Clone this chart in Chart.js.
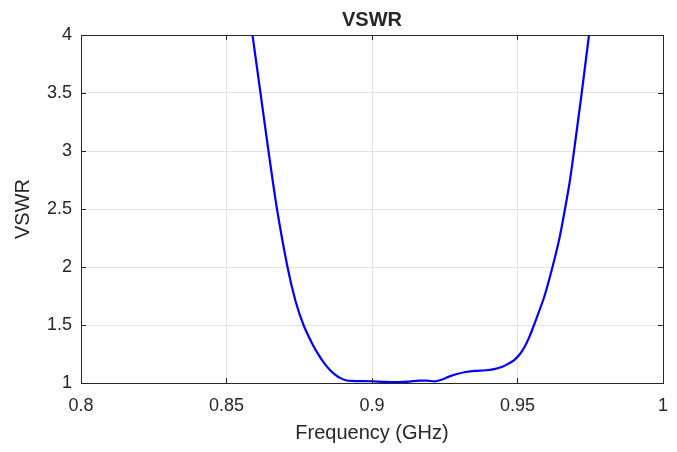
<!DOCTYPE html>
<html>
<head>
<meta charset="utf-8">
<script src="https://cdn.jsdelivr.net/npm/chart.js@4/dist/chart.umd.min.js"></script>
<style>
  html, body { margin: 0; padding: 0; background: #fff; }
  #wrap { width: 677px; height: 452px; }
</style>
</head>
<body>
<div id="wrap"><canvas id="myChart" width="677" height="452"></canvas></div>
<script>
// frequency (GHz) and VSWR
const freq = [0.85704, 0.85893, 0.86168, 0.86443, 0.86735, 0.87096, 0.87371, 0.87646, 0.87938, 0.88144,
    0.8835, 0.88557, 0.88753, 0.88918, 0.89096, 0.89278, 0.8996, 0.90447, 0.90928, 0.91271,
    0.91615, 0.9189, 0.92189, 0.92405, 0.92646, 0.9292, 0.9322, 0.9354, 0.93907, 0.9419,
    0.94478, 0.94708, 0.94897, 0.95086, 0.95241, 0.95412, 0.95567, 0.95928, 0.96203, 0.96443,
    0.96632, 0.96804, 0.96942, 0.97206, 0.97457, 0.97646]
const vswr = [4.34, 4.0, 3.5, 3.0, 2.5, 2.0, 1.707, 1.5, 1.343, 1.251,
    1.174, 1.112, 1.068, 1.042, 1.024, 1.018, 1.015, 1.01, 1.008, 1.012,
    1.02, 1.02, 1.015, 1.03, 1.055, 1.078, 1.095, 1.105, 1.11, 1.12,
    1.14, 1.17, 1.2, 1.25, 1.31, 1.4, 1.5, 1.75, 2.0, 2.25,
    2.5, 2.75, 3.0, 3.5, 4.0, 4.37]

const xTicks = [0.8, 0.85, 0.9, 0.95, 1]
const yTicks = [1, 1.5, 2, 2.5, 3, 3.5, 4]

const textColor = '#262626'
const fontFamily = 'Liberation Sans, Arial, sans-serif'
const canvas = document.getElementById('myChart')

// center the title over the plot area instead of the whole canvas
const titlePlugin = {
    id: 'titleOverPlot',
    afterLayout(chart) {
        const t = chart.titleBlock
        if (t) {
            t.left = chart.chartArea.left
            t.right = chart.chartArea.right
        }
    }
}

// box around plot area plus inward tick marks, matlab style
const boxPlugin = {
    id: 'box',
    afterDraw(chart) {
        const {ctx, chartArea: a, scales} = chart
        ctx.save()
        ctx.strokeStyle = textColor
        ctx.lineWidth = 1
        ctx.beginPath()
        xTicks.forEach(v => {
            const px = Math.round(scales.x.getPixelForValue(v)) + 0.5
            ctx.moveTo(px, a.bottom); ctx.lineTo(px, a.bottom - 5)
            ctx.moveTo(px, a.top); ctx.lineTo(px, a.top + 5)
        })
        yTicks.forEach(v => {
            const py = Math.round(scales.y.getPixelForValue(v)) + 0.5
            ctx.moveTo(a.left, py); ctx.lineTo(a.left + 5, py)
            ctx.moveTo(a.right, py); ctx.lineTo(a.right - 5, py)
        })
        ctx.stroke()
        ctx.strokeRect(Math.round(a.left) + 0.5, Math.round(a.top) + 0.5,
            Math.round(a.right - a.left), Math.round(a.bottom - a.top))
        ctx.restore()
    }
}

const fmt = v => String(Number(v.toFixed(2)))

const config = {
    type: 'line',
    data: {
        datasets: [{
            label: 'VSWR',
            data: freq.map((f, i) => ({x: f, y: vswr[i]})),
            borderColor: '#0000ff',
            borderWidth: 2.2,
            pointRadius: 0,
            fill: false,
            tension: 0.3
        }]
    },
    options: {
        responsive: false,
        animation: false,
        layout: {
            padding: {left: 0, right: 14, top: 0, bottom: 0}
        },
        plugins: {
            legend: {display: false},
            tooltip: {enabled: false},
            title: {
                display: true,
                text: 'VSWR',
                color: textColor,
                font: {family: fontFamily, size: 20, weight: 'bold'},
                padding: {top: 8, bottom: 3}
            }
        },
        scales: {
            x: {
                type: 'linear',
                min: 0.8,
                max: 1,
                afterBuildTicks: s => { s.ticks = xTicks.map(v => ({value: v})) },
                ticks: {
                    color: textColor,
                    font: {family: fontFamily, size: 18},
                    padding: 12,
                    maxRotation: 0,
                    callback: v => fmt(v)
                },
                grid: {color: '#e3e3e3', drawTicks: false},
                border: {display: false},
                title: {
                    display: true,
                    text: 'Frequency (GHz)',
                    color: textColor,
                    font: {family: fontFamily, size: 20},
                    padding: {top: 0, bottom: 7}
                },
                afterFit: s => {
                    s.height = 69
                    s.paddingLeft = 0
                    s.paddingRight = 0
                }
            },
            y: {
                min: 1,
                max: 4,
                afterBuildTicks: s => { s.ticks = yTicks.map(v => ({value: v})) },
                ticks: {
                    color: textColor,
                    font: {family: fontFamily, size: 18},
                    padding: 9,
                    callback: v => fmt(v)
                },
                grid: {color: '#e3e3e3', drawTicks: false},
                border: {display: false},
                title: {
                    display: true,
                    text: 'VSWR',
                    color: textColor,
                    font: {family: fontFamily, size: 20},
                    padding: {top: 11, bottom: 0}
                },
                afterFit: s => {
                    s.width = 81
                    s.paddingTop = 0
                    s.paddingBottom = 0
                }
            }
        }
    },
    plugins: [titlePlugin, boxPlugin]
}

const myChart = new Chart(canvas, config)
</script>
</body>
</html>
